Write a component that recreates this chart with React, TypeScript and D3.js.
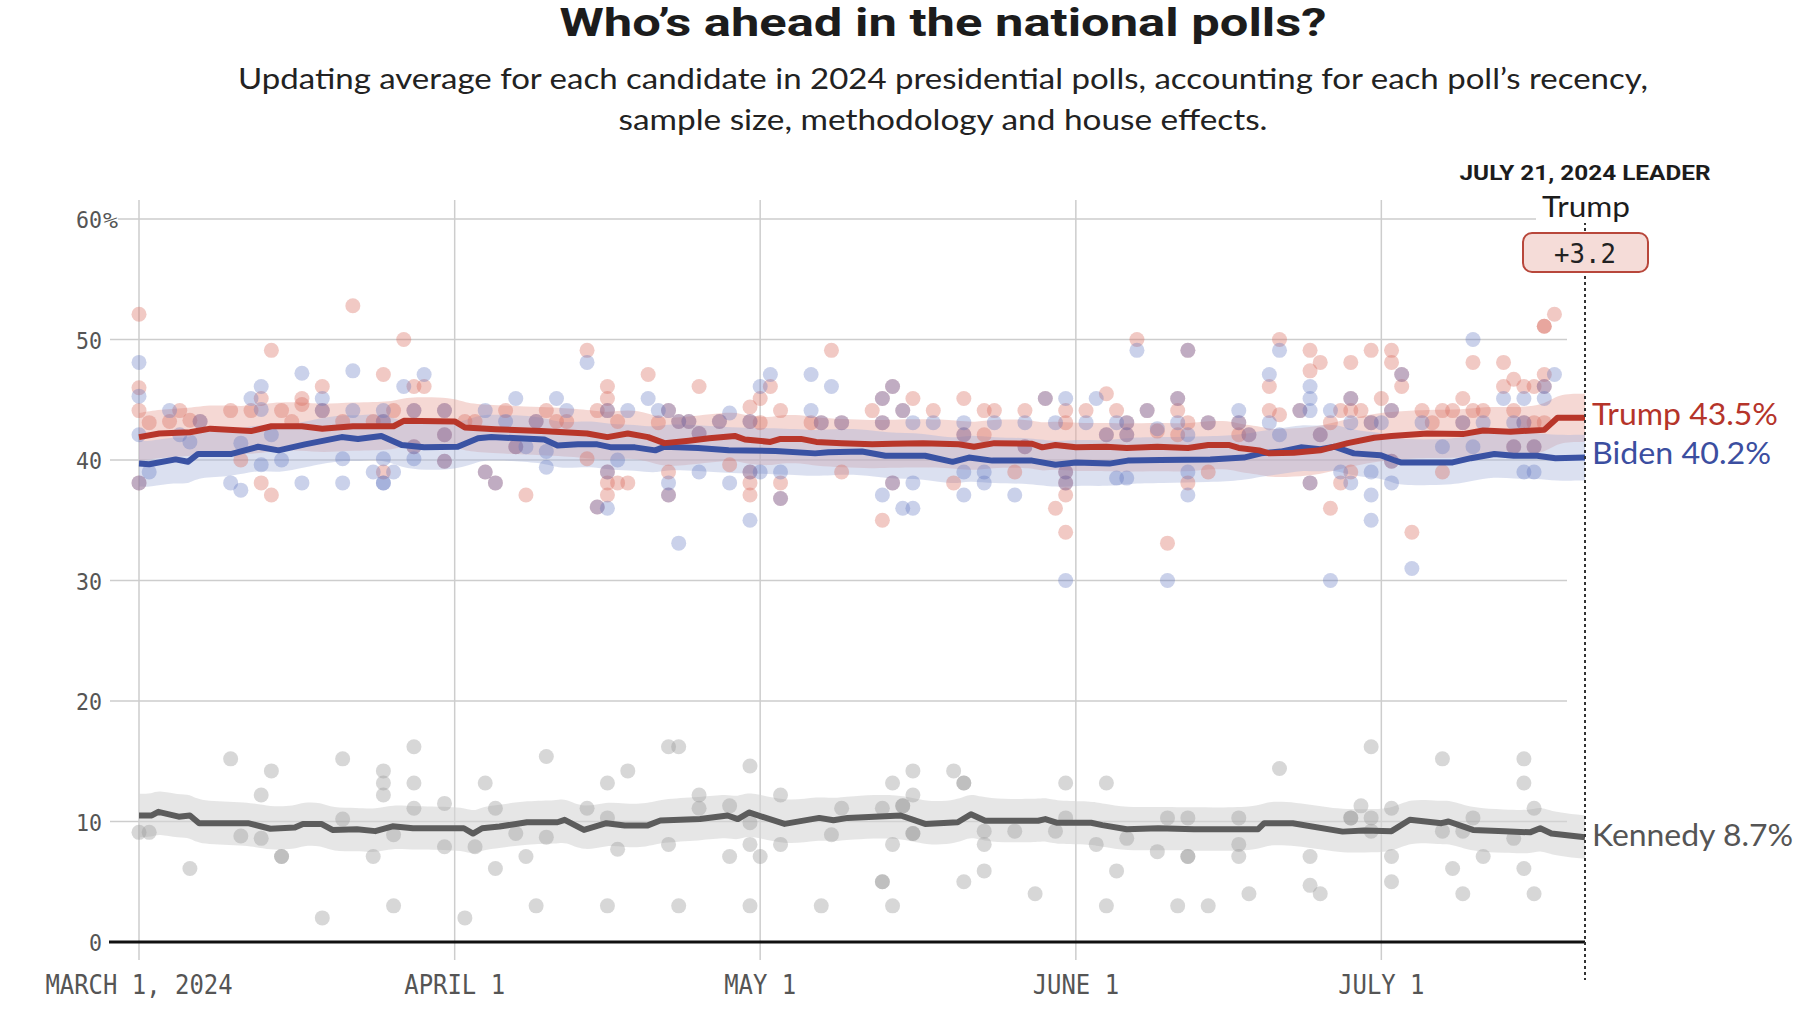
import React from 'react';
import * as d3 from 'd3';

// ---------- DATA ----------
const START_DATE = '2024-03-01';
const END_DATE = '2024-07-21';
const xTickDates = ['2024-03-01', '2024-04-01', '2024-05-01', '2024-06-01', '2024-07-01'];
const xTickLabels = ['MARCH 1, 2024', 'APRIL 1', 'MAY 1', 'JUNE 1', 'JULY 1'];
const yTicks = [0, 10, 20, 30, 40, 50, 60];

const leaderDateLabel = 'JULY 21, 2024 LEADER';
const leaderName = 'Trump';
const leaderMargin = '+3.2';

const candidates = ['Trump', 'Biden', 'Kennedy'];
const finalValues = [43.5, 40.2, 8.7];

// polling averages: [days since March 1, percent]
const trumpAvg: [number, number][] = [
  [0, 41.9], [2, 42.2], [5, 42.3], [7, 42.6], [11, 42.4], [13, 42.8], [16, 42.8], [18, 42.6], [21, 42.8],
  [25, 42.8], [26, 43.25], [31, 43.2], [32, 42.7], [35, 42.55], [39.5, 42.4], [44, 42.2], [46, 41.9],
  [48, 42.2], [50, 41.9], [51.6, 41.4], [54, 41.6], [56, 41.8], [58.5, 42.0], [59.5, 41.7], [62, 41.5],
  [63, 41.75], [65, 41.75], [66.5, 41.5], [69, 41.4], [72, 41.3], [74, 41.35], [77, 41.4], [80.5, 41.3],
  [82, 41.1], [84, 41.4], [87.7, 41.35], [88.7, 41.05], [90, 41.25], [92, 41.05], [95, 41.1], [97, 41.0],
  [100, 41.1], [103, 41.0], [105, 41.25], [107, 41.25], [108, 41.0], [110, 40.8], [111, 40.55],
  [113.4, 40.6], [116, 40.8], [118.7, 41.4], [121.3, 41.85], [123, 42.0], [126.5, 42.2], [130, 42.15],
  [132, 42.45], [134.7, 42.35], [138, 42.5], [139.3, 43.5], [142, 43.5],
];

const bidenAvg: [number, number][] = [
  [0, 39.7], [1, 39.65], [3.6, 40.05], [4.8, 39.85], [5.8, 40.5], [9.1, 40.5], [11.7, 41.1], [13.7, 40.8],
  [16.3, 41.3], [19.9, 41.9], [21.5, 41.75], [23.8, 42.0], [25.8, 41.25], [28, 41.05], [31.3, 41.1],
  [33.3, 41.8], [34.6, 41.9], [39.8, 41.7], [41.1, 41.2], [43.1, 41.3], [45, 41.3], [46.4, 41.05],
  [48.7, 41.05], [50.7, 40.8], [51.6, 41.1], [54.9, 41.0], [57.9, 40.8], [62.5, 40.75], [66.4, 40.55],
  [67.7, 40.65], [71, 40.7], [73.3, 40.35], [77.2, 40.35], [79.9, 39.85], [81.5, 40.2], [83.8, 39.95],
  [87.7, 39.95], [90, 39.6], [92, 39.8], [95.3, 39.7], [97.1, 39.95], [100.3, 40.0], [105.2, 40.05],
  [108.5, 40.2], [110.2, 40.55], [112.1, 40.7], [114.1, 41.05], [116, 40.9], [117.4, 41.1], [119.3, 40.55],
  [121.9, 40.4], [123.2, 40.0], [123.9, 39.8], [129, 39.8], [130.8, 40.15], [133.1, 40.5], [135, 40.35],
  [137.3, 40.35], [139.1, 40.15], [142, 40.2],
];

const kennedyAvg: [number, number][] = [
  [0, 10.5], [1.25, 10.5], [1.9, 10.8], [3.9, 10.4], [5, 10.5], [5.9, 9.86], [10.7, 9.86], [12.9, 9.4],
  [15.3, 9.5], [16.1, 9.8], [17.9, 9.8], [19, 9.3], [21.4, 9.36], [23.2, 9.2], [24.9, 9.6], [26.9, 9.44],
  [31.9, 9.44], [32.8, 9.0], [33.7, 9.44], [35.4, 9.58], [38.1, 9.94], [41.1, 9.94], [41.8, 10.14],
  [43.7, 9.3], [45.9, 9.86], [47.7, 9.66], [49.9, 9.66], [51.2, 10.08], [55.1, 10.2], [57.8, 10.5],
  [58.8, 10.2], [59.9, 10.75], [63.4, 9.8], [66.8, 10.3], [68.2, 10.1], [69.6, 10.3], [74.8, 10.5],
  [77.2, 9.8], [80.4, 9.94], [81.7, 10.6], [83.1, 10.06], [88.3, 10.06], [89, 10.2], [90.1, 9.9],
  [93.5, 9.9], [94.6, 9.7], [97, 9.36], [100.1, 9.44], [103.6, 9.36], [109.9, 9.36], [110.5, 9.86],
  [113.3, 9.86], [118.2, 9.16], [120.3, 9.25], [123, 9.2], [124.8, 10.14], [127.9, 9.86], [128.6, 10.0],
  [131, 9.3], [134.1, 9.2], [136.6, 9.1], [137.6, 9.44], [138.7, 9.0], [142, 8.7],
];

// individual polls: [days since March 1, percent]
const trumpPolls: [number, number][] = [
  [0, 52.1], [0, 46], [0, 44.1], [0, 38.1], [1, 43.1], [3, 43.2], [4, 44.1], [5, 43.3], [6, 43.2], [9, 44.1],
  [10, 40], [11, 44.1], [12, 45.1], [12, 38.1], [13, 49.1], [13, 37.1], [14, 44.1], [15, 43.2], [16, 45.1],
  [16, 44.6], [18, 46.1], [18, 44.1], [20, 43.2], [21, 52.8], [23, 43.2], [24, 47.1], [24, 43.2], [24, 39],
  [25, 44.1], [26, 50], [27, 46.1], [27, 44.1], [27, 41.1], [28, 46.1], [30, 44.1], [30, 42.1], [30, 39.9],
  [32, 43.2], [33, 43.2], [34, 39.0], [35, 38.1], [36, 44.1], [37, 41.1], [38, 37.1], [39, 43.2], [40, 44.1],
  [41, 43.2], [42, 43.2], [44, 49.1], [44, 40.1], [45, 44.1], [45, 36.1], [46, 46.1], [46, 45.1], [46, 44.1],
  [46, 39], [46, 38.1], [46, 37.1], [47, 43.2], [47, 38.1], [48, 38.1], [50, 47.1], [51, 43.1], [52, 44.1],
  [52, 39], [52, 37.1], [53, 43.2], [54, 43.2], [55, 46.1], [55, 42.2], [57, 43.2], [58, 39.6], [60, 44.4],
  [60, 43.2], [60, 39], [60, 38.1], [60, 37.1], [61, 45.1], [61, 43.1], [62, 46.1], [63, 44.1], [63, 38.1],
  [63, 36.8], [66, 43.1], [67, 43.1], [68, 49.1], [69, 43.1], [69, 39], [72, 44.1], [73, 45.1], [73, 43.1],
  [73, 35], [74, 46.1], [74, 38.1], [75, 44.1], [76, 45.1], [78, 44.1], [80, 38.1], [81, 45.1], [81, 42.1],
  [83, 44.1], [83, 42.1], [84, 44.1], [86, 39], [87, 44.1], [87, 41.1], [89, 45.1], [90, 36], [91, 44.1],
  [91, 43.1], [91, 39], [91, 38.1], [91, 37.1], [91, 34], [93, 44.1], [95, 45.5], [95, 42.1], [96, 44.1],
  [97, 43.1], [97, 42.1], [98, 50], [99, 44.1], [100, 42.4], [101, 33.1], [102, 45.1], [102, 44.1],
  [102, 42.1], [103, 49.1], [103, 43.1], [103, 38.1], [105, 43.1], [105, 39], [108, 43.1], [108, 42.1],
  [109, 42.1], [111, 46.1], [111, 44.1], [112, 50], [112, 43.75], [114, 44.1], [115, 49.1], [115, 47.4],
  [115, 38.1], [116, 48.1], [116, 42.1], [117, 43.1], [117, 36], [118, 44.1], [118, 38.1], [119, 48.1],
  [119, 45.1], [119, 44.1], [119, 39], [120, 44.1], [121, 49.1], [121, 43.1], [122, 45.1], [123, 49.1],
  [123, 48.1], [123, 44.1], [123, 39.9], [124, 47.1], [124, 46.1], [125, 34], [126, 44.1], [127, 43.1],
  [128, 44.1], [128, 39], [129, 44.1], [130, 45.1], [130, 43.1], [131, 48.1], [131, 44.1], [132, 44.1],
  [134, 48.1], [134, 46.1], [135, 46.7], [135, 44.1], [135, 41.1], [136, 46.1], [136, 43.1], [137, 46.1],
  [137, 43.1], [137, 41.1], [138, 51.1], [138, 51.1], [138, 47.1], [138, 46.1], [138, 43.1], [139, 52.1],
];

const bidenPolls: [number, number][] = [
  [0, 48.1], [0, 45.3], [0, 42.1], [0, 38.1], [1, 39.0], [3, 44.1], [4, 42.1], [5, 41.5], [6, 43.2], [9, 38.1],
  [10, 37.5], [10, 41.4], [11, 45.1], [12, 46.1], [12, 44.2], [12, 39.6], [13, 42.1], [14, 40], [16, 47.2],
  [16, 38.1], [18, 45.1], [18, 44.1], [20, 40.1], [20, 38.1], [21, 47.4], [21, 44.1], [23, 39], [24, 43.2],
  [24, 44.1], [24, 40.1], [24, 38.1], [24, 38.1], [25, 39], [26, 46.1], [27, 44.1], [27, 41.1], [27, 40.1],
  [28, 47.1], [30, 44.1], [30, 42.1], [30, 39.9], [34, 44.1], [34, 39.0], [35, 38.1], [36, 43.2], [37, 45.1],
  [37, 41.1], [38, 41.1], [39, 43.2], [40, 40.7], [40, 39.4], [41, 45.1], [42, 44.1], [44, 48.1], [45, 36.1],
  [46, 44.1], [46, 39], [46, 36], [47, 40], [48, 44.1], [50, 45.1], [51, 44.1], [52, 44.1], [52, 38.1],
  [52, 37.1], [53, 43.2], [53, 33.1], [54, 43.2], [55, 42.2], [55, 39], [57, 43.2], [58, 38.1], [58, 43.9],
  [60, 43.2], [60, 39], [60, 35], [61, 46.1], [61, 39], [62, 47.1], [63, 39], [63, 36.8], [66, 47.1],
  [66, 44.1], [67, 43.1], [68, 46.1], [69, 43.1], [73, 45.1], [73, 43.1], [73, 37.1], [74, 46.1], [74, 38.1],
  [75, 44.1], [75, 36], [76, 43.1], [76, 38.1], [76, 36], [78, 43.1], [81, 43.1], [81, 42.1], [81, 39],
  [81, 37.1], [83, 39], [83, 38.1], [84, 43.1], [86, 37.1], [87, 43.1], [87, 41.1], [89, 45.1], [90, 43.1],
  [91, 45.1], [91, 39], [91, 38.1], [91, 30], [93, 43.1], [94, 45.1], [95, 42.1], [96, 43.1], [96, 38.5],
  [97, 43.1], [97, 42.1], [97, 38.5], [98, 49.1], [99, 44.1], [100, 42.6], [101, 30], [102, 45.1],
  [102, 43.1], [103, 49.1], [103, 42.1], [103, 39], [103, 37.1], [105, 43.1], [108, 44.1], [108, 43.1],
  [109, 42.1], [111, 47.1], [111, 43.1], [112, 49.1], [112, 42.1], [114, 44.1], [115, 46.1], [115, 45.1],
  [115, 44.1], [115, 38.1], [116, 42.1], [117, 44.1], [117, 30], [118, 39], [119, 45.1], [119, 43.1],
  [119, 38.1], [121, 43.1], [121, 39], [121, 37.1], [121, 35], [122, 43.1], [123, 44.1], [123, 39.9],
  [123, 38.1], [124, 47.1], [125, 31], [126, 43.1], [128, 41.1], [130, 43.1], [131, 50], [131, 41.1],
  [132, 43.1], [134, 45.1], [135, 43.1], [135, 41.1], [136, 45.1], [136, 43.1], [136, 39], [137, 41.1],
  [137, 39], [138, 46.1], [138, 45.1], [139, 47.1],
];

const kennedyPolls: [number, number][] = [
  [0, 9.1], [1, 9.1], [5, 6.1], [9, 15.2], [10, 8.8], [12, 12.2], [12, 8.6], [13, 14.2], [14, 7.1], [14, 7.1],
  [18, 2.0], [20, 15.2], [20, 10.2], [23, 7.1], [24, 14.2], [24, 13.2], [24, 12.2], [25, 8.9], [25, 3.0],
  [27, 16.2], [27, 13.2], [27, 11.1], [30, 11.5], [30, 7.9], [32, 2.0], [33, 7.9], [34, 13.2], [35, 11.1],
  [35, 6.1], [37, 9.0], [38, 7.1], [39, 3.0], [40, 15.4], [40, 8.7], [44, 11.1], [46, 13.2], [46, 10.3],
  [46, 3.0], [47, 7.7], [48, 14.2], [52, 16.2], [53, 16.2], [52, 8.1], [53, 3.0], [55, 12.2], [55, 11.1],
  [58, 11.3], [58, 7.1], [60, 14.6], [60, 9.9], [60, 8.1], [60, 3.0], [61, 7.1], [63, 12.2], [63, 8.1],
  [67, 3.0], [68, 8.9], [69, 11.1], [73, 11.1], [73, 5.0], [73, 5.0], [74, 13.2], [74, 8.1], [74, 3.0],
  [75, 11.3], [75, 11.3], [76, 14.2], [76, 12.2], [76, 9.0], [76, 9.0], [80, 14.2], [81, 13.2], [81, 13.2],
  [81, 5.0], [83, 9.2], [83, 8.1], [83, 5.9], [86, 9.2], [88, 4.0], [90, 9.2], [91, 13.2], [91, 10.3],
  [94, 8.1], [95, 13.2], [95, 3.0], [96, 5.9], [97, 8.6], [100, 7.5], [101, 10.3], [102, 3.0], [103, 10.3],
  [103, 7.1], [103, 7.1], [105, 3.0], [108, 10.3], [108, 8.1], [108, 7.1], [109, 4.0], [112, 14.4],
  [115, 7.1], [115, 4.7], [116, 4.0], [119, 10.3], [119, 10.3], [120, 11.3], [121, 16.2], [121, 10.3],
  [121, 9.2], [123, 11.1], [123, 7.1], [123, 5.0], [128, 15.2], [128, 9.2], [129, 6.1], [130, 9.2],
  [130, 4.0], [131, 10.3], [132, 7.1], [135, 8.6], [136, 15.2], [136, 13.2], [136, 6.1], [137, 11.1],
  [137, 4.0],
];

// uncertainty band half-width (points)
const bandHalfWidth = [2.0, 1.9, 1.8];

// ---------- STYLE ----------
const W = 1809;
const H = 1024;
const M = { left: 139, right: 1585, top: 219, bottom: 942 };
const GRID_X0 = 110;
const GRID_X1 = 1567;
const VGRID_TOP = 200;
const VGRID_BOTTOM = 960;
const CENTER_X = 943;

const lineColors = ['#b8362a', '#3a52a3', '#5c5c5c'];
const labelColors = ['#b5342a', '#3b4ea0', '#555555'];
const dotColors = ['#d9695c', '#5b6fbf', '#9a9a9a'];
const dotOpacity = [0.36, 0.32, 0.4];
const bandColors = ['#e9a8a0', '#a9b4dc', '#d6d6d6'];
const bandOpacity = [0.45, 0.42, 0.6];

const MONO = '"DejaVu Sans Mono", "Liberation Mono", monospace';
const SANS = 'Lato, "Noto Sans", "Open Sans", sans-serif';
const BOLD = 'Roboto, "Liberation Sans", sans-serif';

const parse = d3.utcParse('%Y-%m-%d');
const startDate = parse(START_DATE) as Date;
const endDate = parse(END_DATE) as Date;
const dayToDate = (d: number) => new Date(startDate.getTime() + d * 86400000);

export default function App() {
  const x = d3.scaleUtc().domain([startDate, endDate]).range([M.left, M.right]);
  const y = d3.scaleLinear().domain([0, 60]).range([M.bottom, M.top]);

  const avgs = [trumpAvg, bidenAvg, kennedyAvg];
  const polls = [trumpPolls, bidenPolls, kennedyPolls];

  const line = d3
    .line<[number, number]>()
    .x((d) => x(dayToDate(d[0])))
    .y((d) => y(d[1]))
    .curve(d3.curveLinear);

  const bandFor = (i: number) =>
    d3
      .area<[number, number]>()
      .x((d) => x(dayToDate(d[0])))
      .y0((d) => y(d[1] - bandHalfWidth[i]))
      .y1((d) => y(d[1] + bandHalfWidth[i]))
      .curve(d3.curveBasis);

  const endX = x(endDate);
  const labelYs = [425, 464, 846];
  const labelLens = [186, 179, 201];

  return (
    <svg
      width={W}
      height={H}
      viewBox={`0 0 ${W} ${H}`}
      style={{ position: 'absolute', left: 0, top: 0, background: '#fff' }}
    >
      <rect x={0} y={0} width={W} height={H} fill="#ffffff" />

      {/* Title */}
      <text
        x={CENTER_X}
        y={36}
        textAnchor="middle"
        fontFamily={BOLD}
        fontWeight={700}
        fontSize={38}
        fill="#1c1c1c"
        textLength={767}
        lengthAdjust="spacingAndGlyphs"
      >
        Who’s ahead in the national polls?
      </text>
      <text
        x={CENTER_X}
        y={89}
        textAnchor="middle"
        fontFamily={SANS}
        fontSize={28}
        fill="#222"
        textLength={1410}
        lengthAdjust="spacingAndGlyphs"
      >
        Updating average for each candidate in 2024 presidential polls, accounting for each poll’s recency,
      </text>
      <text
        x={CENTER_X}
        y={130}
        textAnchor="middle"
        fontFamily={SANS}
        fontSize={28}
        fill="#222"
        textLength={649}
        lengthAdjust="spacingAndGlyphs"
      >
        sample size, methodology and house effects.
      </text>

      {/* vertical gridlines */}
      {xTickDates.map((d) => {
        const xx = x(parse(d) as Date);
        return (
          <line key={d} x1={xx} x2={xx} y1={VGRID_TOP} y2={VGRID_BOTTOM} stroke="#cdcdcd" strokeWidth={1.5} />
        );
      })}

      {/* horizontal gridlines */}
      {yTicks.map((t) => (
        <line
          key={t}
          x1={t === 60 ? 118 : GRID_X0}
          x2={GRID_X1}
          y1={y(t)}
          y2={y(t)}
          stroke="#cdcdcd"
          strokeWidth={1.5}
        />
      ))}

      {/* bands */}
      {avgs.map((a, i) => (
        <path key={`band${i}`} d={bandFor(i)(a) || ''} fill={bandColors[i]} opacity={bandOpacity[i]} />
      ))}

      {/* poll dots */}
      {polls.map((p, i) => (
        <g key={`dots${i}`}>
          {p.map((d, j) => (
            <circle
              key={j}
              cx={x(dayToDate(d[0]))}
              cy={y(d[1])}
              r={7.5}
              fill={dotColors[i]}
              fillOpacity={dotOpacity[i]}
            />
          ))}
        </g>
      ))}

      {/* avg lines */}
      {[2, 1, 0].map((i) => (
        <path
          key={`line${i}`}
          d={line(avgs[i]) || ''}
          fill="none"
          stroke={lineColors[i]}
          strokeWidth={6}
          strokeLinejoin="round"
          strokeLinecap="butt"
        />
      ))}

      {/* zero axis */}
      <line x1={109} x2={endX} y1={y(0)} y2={y(0)} stroke="#111" strokeWidth={3} />

      {/* y tick labels */}
      {yTicks.map((t) => (
        <text
          key={`yl${t}`}
          x={102}
          y={y(t) + 9}
          textAnchor="end"
          fontFamily={MONO}
          fontSize={23}
          fill="#555"
          textLength={String(t).length * 13}
          lengthAdjust="spacingAndGlyphs"
        >
          {t}
        </text>
      ))}
      <text
        x={103}
        y={y(60) + 9}
        fontFamily={MONO}
        fontSize={22}
        fill="#555"
        textLength={15}
        lengthAdjust="spacingAndGlyphs"
      >
        %
      </text>

      {/* x tick labels */}
      {xTickDates.map((d, i) => (
        <text
          key={`xl${d}`}
          x={x(parse(d) as Date)}
          y={994}
          textAnchor="middle"
          fontFamily={MONO}
          fontSize={27}
          fill="#555"
          textLength={xTickLabels[i].length * 14.4}
          lengthAdjust="spacingAndGlyphs"
        >
          {xTickLabels[i]}
        </text>
      ))}

      {/* leader marker */}
      <line
        x1={endX}
        x2={endX}
        y1={222}
        y2={980}
        stroke="#333"
        strokeWidth={2}
        strokeDasharray="3,3"
      />
      <rect x={1536} y={193} width={100} height={30} fill="#fff" />
      <text
        x={endX}
        y={180}
        textAnchor="middle"
        fontFamily={BOLD}
        fontWeight={700}
        fontSize={21}
        fill="#1c1c1c"
        textLength={251}
        lengthAdjust="spacingAndGlyphs"
      >
        {leaderDateLabel}
      </text>
      <text
        x={endX + 1}
        y={217}
        textAnchor="middle"
        fontFamily={SANS}
        fontSize={29}
        fill="#1c1c1c"
        textLength={88}
        lengthAdjust="spacingAndGlyphs"
      >
        {leaderName}
      </text>
      <rect x={endX - 62} y={233} width={125} height={39} rx={9} fill="#f5dcd8" stroke="#b8473b" strokeWidth={2} />
      <text
        x={endX}
        y={263}
        textAnchor="middle"
        fontFamily={MONO}
        fontSize={27}
        fill="#222"
        textLength={62}
        lengthAdjust="spacingAndGlyphs"
      >
        {leaderMargin}
      </text>

      {/* end labels */}
      {candidates.map((c, i) => (
        <text
          key={`end${c}`}
          x={endX + 7}
          y={labelYs[i]}
          fontFamily={SANS}
          fontSize={30}
          fill={labelColors[i]}
          textLength={labelLens[i]}
          lengthAdjust="spacingAndGlyphs"
        >
          {`${c} ${finalValues[i]}%`}
        </text>
      ))}
    </svg>
  );
}
